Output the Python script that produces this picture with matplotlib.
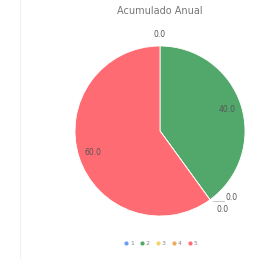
import matplotlib.pyplot as plt
import numpy as np
from matplotlib.lines import Line2D

# Dados do gráfico
categorias = ['1', '2', '3', '4', '5']
valores = [0.0, 40.0, 0.0, 0.0, 60.0]
cores = ['#6b9bf5', '#52a86b', '#f2d36b', '#f2a65a', '#ff6b72']

fig = plt.figure(figsize=(2.79, 2.59), dpi=100)
fig.patch.set_facecolor('white')

# eixo posicionado para centro (160,131) e raio 85 px
ax = fig.add_axes([75 / 279, 43 / 259, 170 / 279, 170 / 259])
wedges, _ = ax.pie(valores, colors=cores, startangle=90, counterclock=False,
                   wedgeprops=dict(edgecolor='white', linewidth=0.6))
ax.set_xlim(-1, 1)
ax.set_ylim(-1, 1)
ax.set_aspect('equal')
ax.axis('off')

# rótulos de valores
for i, (w, v) in enumerate(zip(wedges, valores)):
    ang = np.deg2rad((w.theta1 + w.theta2) / 2)
    ex, ey = np.cos(ang), np.sin(ang)
    if v > 0:
        x, y = 0.83 * ex, 0.83 * ey
    elif i == 0:
        x, y = 1.13 * ex, 1.13 * ey
    elif i == 2:
        # rótulo com linha guia curta
        ax.plot([ex + 0.03, ex + 0.17], [ey - 0.01, ey - 0.01], color='#bbbbbb',
                linewidth=0.6, clip_on=False)
        x, y = ex + 0.26, ey + 0.03
    else:
        x, y = ex + 0.15, ey - 0.12
    ax.text(x, y, f'{v:.1f}', ha='center', va='center', fontsize=5.5,
            color='#555555', clip_on=False)

fig.text(160 / 279, 1 - 11 / 259, 'Acumulado Anual', ha='center', va='center',
         fontsize=7, color='#777777')

handles = [Line2D([], [], marker='o', linestyle='', markersize=2, color=c)
           for c in cores]
fig.legend(handles, categorias, loc='center', bbox_to_anchor=(161 / 279, 1 - 243 / 259),
           ncol=5, frameon=False, fontsize=4.5, handlelength=0.6, handletextpad=0.3,
           columnspacing=1.0, labelcolor='#888888')

fig.add_artist(Line2D([20 / 279, 20 / 279], [0, 1], color='#f2f2f2', linewidth=0.8))

fig.savefig('out.png', dpi=100)
